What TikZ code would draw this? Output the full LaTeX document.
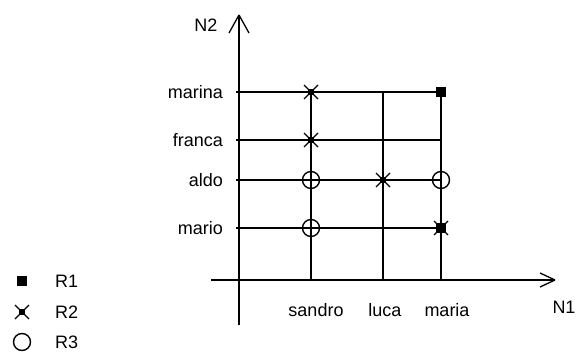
\documentclass[tikz,border=0pt]{standalone}
\usepackage{fontspec}
\setmainfont{Liberation Sans}
\begin{document}
\begin{tikzpicture}[x=1pt,y=-1pt,
  gridline/.style={line width=1.6pt,black},
  barb/.style={line width=1.3pt,black},
  lab/.style={font=\fontsize{18}{18}\selectfont, inner sep=0pt},
  rone/.style={rectangle, fill=black, minimum size=10pt, inner sep=0pt},
  rthree/.style={circle, draw=black, line width=1.4pt, minimum size=17pt, inner sep=0pt},
  rtwo/.pic={\fill[black] (-3,-3) rectangle (3,3);
             \draw[line width=1.2pt] (-7,-7) -- (7,7) (-7,7) -- (7,-7);}
]
\useasboundingbox (0,0) rectangle (578,356);
% axes
\coordinate (yb) at (239,325);
\coordinate (yt) at (239,15);
\coordinate (xl) at (211,280);
\coordinate (xr) at (555,280);
\draw[gridline] (yb) -- (yt);
\draw[gridline] (xl) -- (xr);
\draw[barb] (yt) -- ++(-10,18) (yt) -- ++(10,18);
\draw[barb] (xr) -- ++(-15,-7) (xr) -- ++(-15,7);
\node[lab] (N2) at (206,25) {N2};
\node[lab] (N1) at (564,307) {N1};
% rows
\foreach \n/\y in {marina/92, franca/140, aldo/180, mario/228}{
  \node[lab, anchor=east] (\n) at (223,\y) {\n};
  \coordinate (\n-l) at (236,\y);
  \coordinate (\n-r) at (441,\y);
  \draw[gridline] (\n-l) -- (\n-r);
}
% columns
\foreach \n/\x/\lx in {sandro/311/316, luca/383/385, maria/441/447}{
  \coordinate (\n-t) at (\x,92);
  \coordinate (\n-b) at (\x,280);
  \draw[gridline] (\n-t) -- (\n-b);
  \node[lab] (\n) at (\lx,310) {\n};
}
% marks
\node[rone] (m1) at (maria-t |- marina-l) {};
\node[rone] (m2) at (maria-t |- mario-l) {};
\pic at (maria-t |- mario-l) {rtwo};
\pic at (sandro-t |- marina-l) {rtwo};
\pic at (sandro-t |- franca-l) {rtwo};
\pic at (luca-t |- aldo-l) {rtwo};
\node[rthree] (c1) at (sandro-t |- aldo-l) {};
\node[rthree] (c2) at (sandro-t |- mario-l) {};
\node[rthree] (c3) at (maria-t |- aldo-l) {};
% legend
\node[rone] (k1) at (22,281) {};
\pic at (22,312) {rtwo};
\node[rthree] (k3) at (22,342) {};
\node[lab, anchor=west] (R1) at (55,281) {R1};
\node[lab, anchor=west] (R2) at (55,312) {R2};
\node[lab, anchor=west] (R3) at (55,342) {R3};
\end{tikzpicture}
\end{document}
